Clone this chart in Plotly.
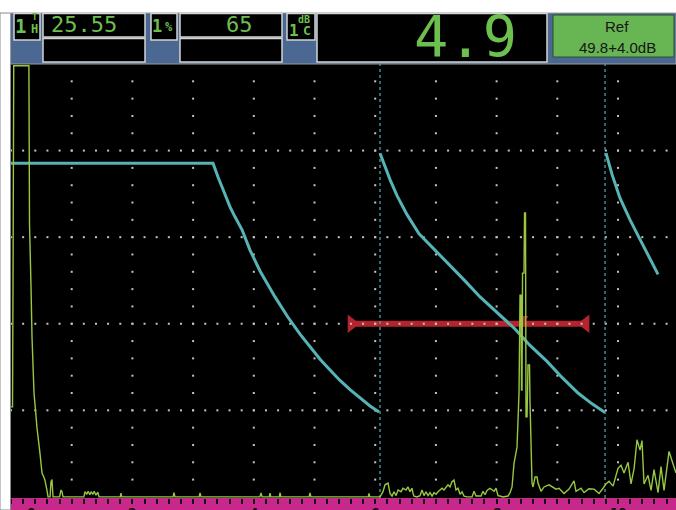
import plotly.graph_objects as go

# ---------------- data ----------------
x_range = [0, 10.955]
y_range = [-0.25, 100]

ruler_labels = ["0", "2", "4", "6", "8", "10"]
ruler_label_pos = [0.33, 2, 4, 6, 8, 10]

# A-scan trace (screen divisions, % full screen height)
ascan = [
    (0.000, 20.8), (0.025, 20.8), (0.035, 56), (0.045, 99.6), (0.295, 99.6), (0.305, 63),
    (0.329, 49), (0.346, 37), (0.379, 24), (0.428, 16), (0.478, 10), (0.511, 5.5),
    (0.544, 4.5), (0.560, 3.8), (0.593, 1.5), (0.610, 0), (0.643, 0), (0.659, 3.5),
    (0.675, 4.0), (0.692, 0), (0.800, 0), (0.824, 1.6), (0.840, 1.2), (0.857, 0),
    (1.200, 0), (1.220, 1.2), (1.250, 0.6), (1.270, 1.3), (1.300, 0.5), (1.320, 1.2),
    (1.350, 0.6), (1.370, 1.3), (1.400, 0.4), (1.430, 1.1), (1.450, 0),
    (1.800, 0), (1.812, 0.9), (1.825, 0), (2.670, 0), (2.685, 1.0), (2.700, 0),
    (3.100, 0), (3.114, 0.9), (3.130, 0), (4.100, 0), (4.119, 0.9), (4.135, 0),
    (4.255, 0), (4.267, 0.9), (4.280, 0), (4.420, 0), (4.432, 1.0), (4.445, 0),
    (4.910, 0), (4.926, 0.9), (4.940, 0), (5.885, 0), (5.898, 0.8), (5.910, 0),
    (6.079, 0), (6.128, 1.2), (6.161, 2.8), (6.211, 3.2), (6.244, 0.8), (6.277, 0.2),
    (6.310, 1.2), (6.343, 0.3), (6.376, 1.6), (6.425, 1.2), (6.458, 2.0), (6.507, 1.6),
    (6.540, 2.3), (6.573, 1.2), (6.606, 2.0), (6.623, 0.8), (6.639, 0.2), (6.689, 0),
    (6.738, 0.3), (6.771, 1.6), (6.804, 0.3), (6.837, 1.2), (6.870, 0.3), (6.903, 1.0),
    (6.936, 0.2), (6.969, 1.0), (7.002, 0.6), (7.035, 1.2), (7.068, 1.6), (7.101, 2.0),
    (7.133, 1.6), (7.166, 2.3), (7.199, 2.8), (7.232, 2.3), (7.265, 3.5), (7.298, 3.9),
    (7.331, 1.6), (7.364, 2.0), (7.397, 0.6), (7.430, 1.2), (7.463, 0.2), (7.512, 0),
    (7.595, 0), (7.628, 1.3), (7.661, 0.2), (7.743, 0.2), (7.776, 1.3), (7.809, 0.5),
    (7.842, 1.5), (7.891, 2.0), (7.924, 1.6), (7.957, 1.3), (7.990, 2.0), (8.023, 0.3),
    (8.056, 0.2), (8.105, 0), (8.188, 0.2), (8.221, 1.0), (8.254, 2.3), (8.287, 7.8),
    (8.336, 11.5), (8.369, 24), (8.386, 46.6), (8.402, 46.6), (8.410, 24.7), (8.418, 24.7),
    (8.427, 51.7), (8.451, 51.7), (8.460, 65.6), (8.476, 65.6), (8.484, 18.5), (8.501, 18.5),
    (8.517, 30.5), (8.542, 30.5), (8.550, 22), (8.567, 10), (8.583, 3.2), (8.600, 2.3),
    (8.633, 4.6), (8.666, 4.6), (8.682, 3.2), (8.731, 1.3), (8.781, 2.3), (8.863, 2.8),
    (8.929, 2.3), (8.979, 1.8), (9.028, 2.0), (9.110, 0.8), (9.193, 1.8), (9.275, 3.7),
    (9.308, 1.3), (9.390, 2.0), (9.440, 1.0), (9.522, 1.9), (9.605, 1.8), (9.687, 0.8),
    (9.753, 2.0), (9.802, 3.0), (9.852, 3.6), (9.918, 2.5), (10.000, 6.6), (10.049, 7.3),
    (10.099, 5.5), (10.165, 8.0), (10.214, 3.0), (10.264, 6.5), (10.313, 13.2), (10.362, 10.8),
    (10.395, 13.0), (10.428, 3.0), (10.494, 5.0), (10.544, 1.5), (10.593, 6.3), (10.659, 1.0),
    (10.708, 7.0), (10.758, 1.5), (10.840, 10.5), (10.906, 7.4), (10.955, 5.5),
]
ascan_x = [p[0] for p in ascan]
ascan_y = [p[1] for p in ascan]

# DAC / TCG reference curve segments
dac1_x = [0, 3.328, 3.410, 3.493, 3.608, 3.690, 3.806, 3.937, 4.102, 4.349, 4.563, 4.761,
          4.926, 5.091, 5.256, 5.420, 5.585, 5.750, 5.914, 6.063]
dac1_y = [77.1, 77.1, 73.9, 70.9, 67.0, 64.7, 61.7, 57.0, 52.2, 46.2, 41.5, 37.6,
          34.6, 31.8, 29.3, 26.9, 24.8, 22.8, 21.0, 19.6]
dac2_x = [6.079, 6.161, 6.244, 6.359, 6.524, 6.722, 6.985, 7.232, 7.479, 7.727, 8.007,
          8.303, 8.550, 8.830, 9.077, 9.341, 9.572, 9.786]
dac2_y = [79.4, 76.2, 73.3, 69.6, 65.2, 60.8, 57.0, 53.6, 49.9, 46.2, 42.5,
          38.8, 35.0, 31.3, 27.6, 24.0, 21.5, 19.5]
dac3_x = [9.802, 9.901, 10.033, 10.198, 10.362, 10.527, 10.659]
dac3_y = [79.4, 74.5, 69.0, 64.0, 59.5, 55.0, 51.4]
zone_marks = [6.079, 9.786]

gate_start, gate_end, gate_level = 5.552, 9.522, 40
gate_peak_x = 8.45

readout_th = "25.55"
readout_pct = "65"
readout_db = "4.9"
ref_title = "Ref"
ref_value = "49.8+4.0dB"

# ---------------- layout helpers (pixels -> paper) ----------------
W, H = 676, 510
L, R, T, B = 11, 676, 64, 498


def px(x):
    return (x - L) / (R - L)


def py(y):
    return (B - y) / (B - T)


GREEN = "#6dbf4f"
shapes = []
annots = []


def rect(x0, y0, x1, y1, fill, line="rgba(0,0,0,0)", lw=0):
    shapes.append(dict(type="rect", xref="paper", yref="paper",
                       x0=px(x0), x1=px(x1), y0=py(y1), y1=py(y0),
                       fillcolor=fill, line=dict(color=line, width=lw), layer="above"))


def txt(x, y, text, size, color=GREEN, family="DejaVu Sans Mono", xa="center", ya="middle", bold=False):
    annots.append(dict(xref="paper", yref="paper", x=px(x), y=py(y), text=("<b>%s</b>" % text) if bold else text,
                       showarrow=False, xanchor=xa, yanchor=ya,
                       font=dict(size=size, color=color, family=family)))


# left white strip border and header
rect(0, 13, 10.5, 510, "#ffffff", "#8a8a8a", 1)
rect(10.5, 13, 676, 64, "#4a6891", "#9a9a9a", 1)
BOX = "#d4d4d4"
rect(14, 13.5, 40, 40, "#000000", BOX, 1.5)
rect(43, 13.5, 145, 37, "#000000", BOX, 1.5)
rect(43, 38.5, 145, 62, "#000000", BOX, 1.5)
rect(151, 13.5, 177, 40, "#000000", BOX, 1.5)
rect(180, 13.5, 282, 37, "#000000", BOX, 1.5)
rect(180, 38.5, 282, 62, "#000000", BOX, 1.5)
rect(287, 13.5, 315, 40, "#000000", BOX, 1.5)
rect(317, 13.5, 547, 62, "#000000", BOX, 1.5)
rect(553, 15, 674, 57, "#67b553", "#2f4f2f", 1)
# ruler band
shapes.append(dict(type="rect", xref="paper", yref="paper", x0=0, x1=1, y0=py(510), y1=py(498),
                   fillcolor="#c8288c", line=dict(width=0), layer="below"))

txt(20, 26, "1", 19, bold=True)
txt(34.5, 17.5, "T", 9, bold=True)
txt(34.5, 29, "H", 12, bold=True)
txt(157, 26, "1", 17, bold=True)
txt(169, 27.5, "%", 12, bold=True)
txt(304, 19, "dB", 10, bold=True)
txt(294, 31, "1", 16, bold=True)
txt(307, 30.5, "C", 13, bold=True)
txt(119, 25, readout_th, 22, xa="right")
txt(255, 25, readout_pct, 22, xa="right")
txt(519, 37, readout_db, 57, xa="right")
txt(617, 26, ref_title, 15, color="#151515", family="Liberation Sans")
txt(617, 47, ref_value, 15, color="#151515", family="Liberation Sans")
for lab, pos in zip(ruler_labels, ruler_label_pos):
    annots.append(dict(xref="x", yref="paper", x=pos, y=py(503.5), text="<b>%s</b>" % lab,
                       showarrow=False, xanchor="center", yanchor="top",
                       font=dict(size=12, color="#111111", family="DejaVu Sans")))

# ---------------- traces ----------------
fig = go.Figure()

# gate bar
fig.add_trace(go.Scatter(x=[gate_start, gate_end], y=[gate_level, gate_level], mode="lines",
                         line=dict(color="#b3242e", width=6), hoverinfo="skip"))
fig.add_trace(go.Scatter(x=[gate_start + 0.06, gate_end - 0.06], y=[gate_level, gate_level], mode="markers",
                         marker=dict(symbol=["triangle-right", "triangle-left"], size=16, color="#b3242e",
                                     line=dict(width=0)), hoverinfo="skip"))
fig.add_trace(go.Scatter(x=[gate_peak_x], y=[gate_level + 1.3], mode="markers",
                         marker=dict(symbol="triangle-down", size=8, color="#b3242e", line=dict(width=0)),
                         hoverinfo="skip"))

# grid dots
gx, gy = [], []
for k in range(1, 11):
    for j in range(1, 25):
        gx.append(k)
        gy.append(4 * j)
for lvl in (20, 40, 60, 80):
    for j in range(0, 55):
        gx.append(round(j * 0.2, 3))
        gy.append(lvl)
fig.add_trace(go.Scatter(x=gx, y=gy, mode="markers",
                         marker=dict(symbol="square", size=2, color="#c4c4c4", line=dict(width=0)),
                         hoverinfo="skip"))

# zone markers
for zx in zone_marks:
    fig.add_trace(go.Scatter(x=[zx, zx], y=[y_range[0], 100], mode="lines",
                             line=dict(color="#4fb0b2", width=1.2, dash="3px,3px"), hoverinfo="skip"))

# DAC segments
for dx, dy in ((dac1_x, dac1_y), (dac2_x, dac2_y), (dac3_x, dac3_y)):
    fig.add_trace(go.Scatter(x=dx, y=dy, mode="lines", line=dict(color="#57b3b5", width=3),
                             hoverinfo="skip"))

# A-scan
fig.add_trace(go.Scatter(x=ascan_x, y=ascan_y, mode="lines", line=dict(color="#97c840", width=1.4),
                         hoverinfo="skip"))

fig.update_layout(
    width=W, height=H, showlegend=False,
    margin=dict(l=L, r=W - R, t=T, b=H - B, pad=0),
    paper_bgcolor="#ffffff", plot_bgcolor="#000000",
    shapes=shapes, annotations=annots,
    xaxis=dict(range=x_range, showgrid=False, zeroline=False, showline=False,
               ticks="outside", tick0=0, dtick=0.2, ticklen=5, tickwidth=1.6, tickcolor="#111111",
               showticklabels=False, fixedrange=True),
    yaxis=dict(range=y_range, showgrid=False, zeroline=False, showline=False,
               showticklabels=False, ticks="", fixedrange=True),
)

fig.write_html("out.html", config={"displayModeBar": False},
               post_script="document.body.style.margin='0px';document.body.style.overflow='hidden';")
